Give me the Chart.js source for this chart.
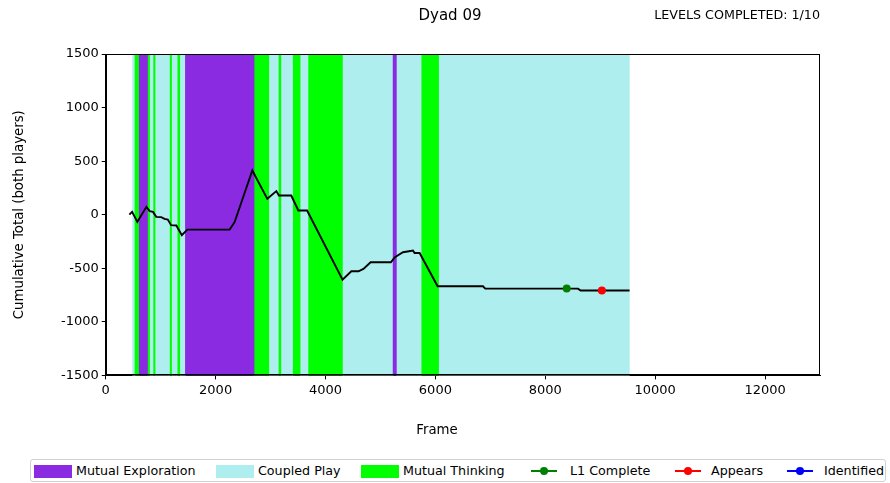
<!DOCTYPE html>
<html>
<head>
<meta charset="utf-8">
<script src="https://cdn.jsdelivr.net/npm/chart.js@4/dist/chart.umd.min.js"></script>
<style>
  html, body { margin: 0; padding: 0; background: #fff; }
  #wrap { position: relative; width: 890px; height: 483px; overflow: hidden;
          font-family: "DejaVu Sans", sans-serif; color: #000; }
  #chart { position: absolute; left: 0; top: 0; }
  .txt { position: absolute; white-space: nowrap; line-height: 1; }
  #title { left: 450px; top: 8px; font-size: 15px; transform: translateX(-50%); }
  #levels { right: 70px; top: 9px; font-size: 12.7px; }
  #xlabel { left: 437px; top: 423px; font-size: 13.3px; transform: translateX(-50%); }
  #legend { position: absolute; left: 30px; top: 459px; width: 856px; height: 23px;
            border: 1px solid #d0d0d0; border-radius: 3px; box-sizing: border-box; background: #fff; }
  .patch { position: absolute; top: 5px; width: 38px; height: 13px; }
  .lg { position: absolute; top: 5px; font-size: 12.7px; line-height: 1; white-space: nowrap; }
  .ln { position: absolute; top: 10px; width: 26px; height: 2px; }
  .dot { position: absolute; top: 7px; width: 8px; height: 8px; border-radius: 50%; }
</style>
</head>
<body>
<div id="wrap">
  <canvas id="chart" width="890" height="483"></canvas>
  <div id="title" class="txt">Dyad 09</div>
  <div id="levels" class="txt">LEVELS COMPLETED: 1/10</div>
  <div id="xlabel" class="txt">Frame</div>
  <div id="legend"></div>
</div>
<script>
// Cumulative score trace (frame, total)
const frames = [430, 480, 575, 740, 800, 860, 920, 1010, 1070, 1130, 1190, 1285, 1385, 1485,
                2255, 2345, 2668, 2941, 3105, 3152, 3377, 3505, 3665, 4310, 4470, 4600, 4690,
                4821, 5190, 5258, 5320, 5410, 5520, 5592, 5622, 5713, 6040, 6866, 6908, 8595,
                8643, 9534];
const totals = [0, 26, -67, 73, 33, 26, -20, -23, -39, -45, -98, -101, -192, -139,
                -139, -70, 413, 148, 220, 179, 179, 39, 39, -606, -528, -528, -506,
                -444, -444, -400, -379, -350, -341, -335, -357, -357, -668, -668, -690, -690,
                -708, -708];

// Behaviour episodes as [startFrame, endFrame]
const explorationSpans = [[610, 760], [1450, 2700], [5230, 5290]];
const coupledSpans = [[490, 520], [810, 860], [910, 1160], [1210, 1300], [1360, 1450],
                      [2980, 3140], [3200, 3400], [3550, 3680], [4320, 5230], [5290, 5740],
                      [6070, 9530]];
const thinkingSpans = [[520, 610], [760, 810], [860, 910], [1160, 1210], [1300, 1360],
                       [2700, 2980], [3140, 3200], [3400, 3550], [3680, 4320], [5740, 6070]];

// Events
const l1CompleteFrame = [8390];
const l1CompleteTotal = [-690];
const appearsFrame = [9030];
const appearsTotal = [-708];
const identifiedFrame = [];
const identifiedTotal = [];

const xTicks = [0, 2000, 4000, 6000, 8000, 10000, 12000];
const yTicks = [-1500, -1000, -500, 0, 500, 1000, 1500];

const legendItems = [
  { kind: 'patch', label: 'Mutual Exploration', color: '#8A2BE2' },
  { kind: 'patch', label: 'Coupled Play', color: '#AFEEEE' },
  { kind: 'patch', label: 'Mutual Thinking', color: '#00FF00' },
  { kind: 'marker', label: 'L1 Complete', color: '#008000' },
  { kind: 'marker', label: 'Appears', color: '#FF0000' },
  { kind: 'marker', label: 'Identified', color: '#0000FF' }
];

Chart.defaults.color = '#000';
Chart.defaults.font.family = '"DejaVu Sans", sans-serif';

function spanData(spans) {
  return spans.map(([s, e]) => ({ x: [s, e], y: 'span' }));
}
function spanSet(label, spans, color) {
  return {
    type: 'bar', label, indexAxis: 'y', xAxisID: 'x', yAxisID: 'band',
    data: spanData(spans), backgroundColor: color, borderWidth: 0,
    barPercentage: 1, categoryPercentage: 1, grouped: false, order: 10
  };
}
function pointSet(label, xs, ys, color) {
  return {
    type: 'line', label, xAxisID: 'x', yAxisID: 'y',
    data: xs.map((v, i) => ({ x: v, y: ys[i] })),
    showLine: false, pointRadius: 4, pointHoverRadius: 4,
    backgroundColor: color, borderColor: color, borderWidth: 0, order: 0
  };
}

const frameBox = {
  id: 'frameBox',
  afterDatasetsDraw(chart) {
    const { ctx, chartArea: a } = chart;
    ctx.save();
    ctx.strokeStyle = '#000';
    ctx.lineWidth = 1;
    const l = Math.round(a.left) + 0.5, t = Math.round(a.top) + 0.5;
    const r = Math.round(a.right) - 0.5, b = Math.round(a.bottom) - 0.5;
    ctx.strokeRect(l, t, r - l, b - t);
    ctx.restore();
  }
};

const setTicks = list => scale => { scale.ticks = list.map(v => ({ value: v })); };
const plainNumber = v => String(v);

new Chart(document.getElementById('chart'), {
  type: 'line',
  data: {
    datasets: [
      {
        type: 'line', label: 'Cumulative Total', xAxisID: 'x', yAxisID: 'y',
        data: frames.map((f, i) => ({ x: f, y: totals[i] })),
        borderColor: '#000', borderWidth: 1.9, pointRadius: 0, tension: 0, fill: false, order: 1
      },
      pointSet('L1 Complete', l1CompleteFrame, l1CompleteTotal, '#008000'),
      pointSet('Appears', appearsFrame, appearsTotal, '#FF0000'),
      pointSet('Identified', identifiedFrame, identifiedTotal, '#0000FF'),
      spanSet('Mutual Exploration', explorationSpans, '#8A2BE2'),
      spanSet('Coupled Play', coupledSpans, '#AFEEEE'),
      spanSet('Mutual Thinking', thinkingSpans, '#00FF00')
    ]
  },
  options: {
    responsive: false,
    animation: false,
    layout: { padding: { left: 8, right: 70, top: 54, bottom: 82 } },
    plugins: { legend: { display: false }, tooltip: { enabled: false } },
    scales: {
      x: {
        type: 'linear', position: 'bottom', min: 0, max: 13000,
        afterBuildTicks: setTicks(xTicks),
        grid: { drawOnChartArea: false, drawTicks: true, tickLength: 4, color: '#000' },
        border: { display: true, color: '#000' },
        ticks: { padding: 3, font: { size: 13 }, maxRotation: 0, autoSkip: false, callback: plainNumber },
        title: { display: false }
      },
      y: {
        type: 'linear', position: 'left', min: -1500, max: 1500,
        afterBuildTicks: setTicks(yTicks),
        grid: { drawOnChartArea: false, drawTicks: true, tickLength: 4, color: '#000' },
        border: { display: true, color: '#000' },
        ticks: { padding: 3, font: { size: 13 }, autoSkip: false, callback: plainNumber },
        title: { display: true, text: 'Cumulative Total (both players)', font: { size: 13.3 },
                 padding: { top: 4, bottom: 30 } }
      },
      band: {
        type: 'category', axis: 'y', labels: ['span'], offset: true, display: false,
        grid: { offset: true }
      }
    }
  },
  plugins: [frameBox]
});

// Legend row
const legendPos = [
  { patch: 3, text: 45 }, { patch: 185, text: 227 }, { patch: 330, text: 372 },
  { patch: 500, text: 539 }, { patch: 644, text: 680 }, { patch: 756, text: 793 }
];
const legend = document.getElementById('legend');
legendItems.forEach((item, i) => {
  const p = legendPos[i];
  if (item.kind === 'patch') {
    const el = document.createElement('div');
    el.className = 'patch';
    el.style.left = p.patch + 'px';
    el.style.background = item.color;
    legend.appendChild(el);
  } else {
    const ln = document.createElement('div');
    ln.className = 'ln';
    ln.style.left = p.patch + 'px';
    ln.style.background = item.color;
    legend.appendChild(ln);
    const dot = document.createElement('div');
    dot.className = 'dot';
    dot.style.left = (p.patch + 9) + 'px';
    dot.style.background = item.color;
    legend.appendChild(dot);
  }
  const tx = document.createElement('div');
  tx.className = 'lg';
  tx.style.left = p.text + 'px';
  tx.textContent = item.label;
  legend.appendChild(tx);
});
</script>
</body>
</html>
